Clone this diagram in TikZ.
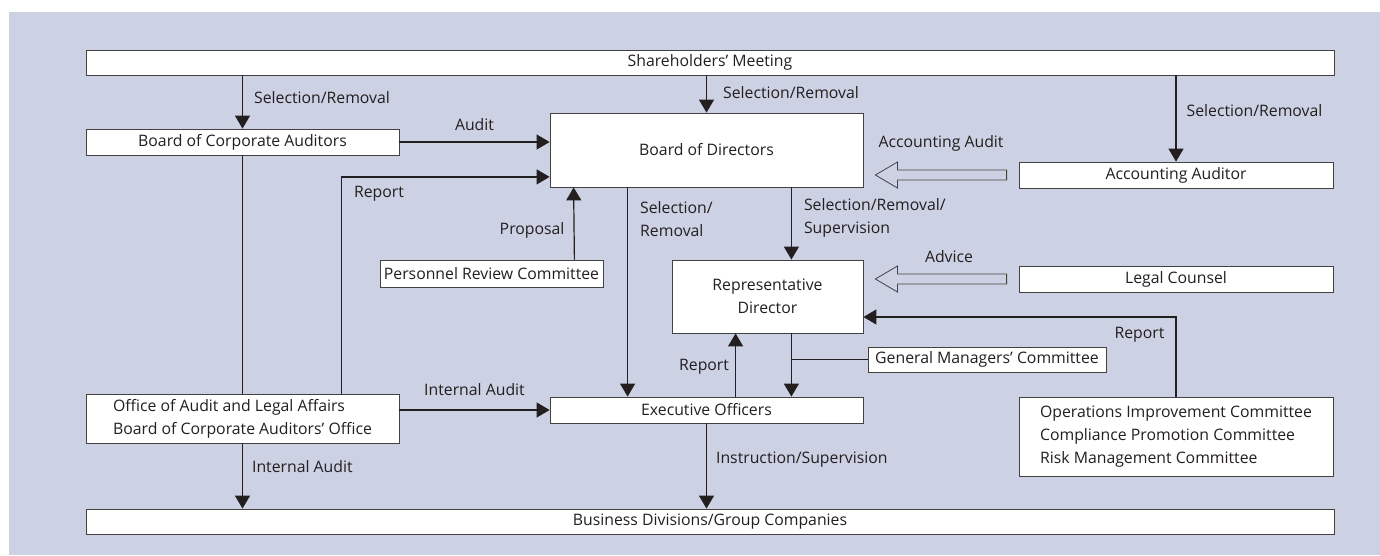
\documentclass[tikz,border=0pt]{standalone}
\usepackage{fontspec}
\setmainfont{Open Sans}
\usetikzlibrary{arrows.meta,positioning,calc}
\definecolor{panel}{RGB}{204,209,228}
\definecolor{ink}{RGB}{35,31,32}

\begin{document}
\begin{tikzpicture}[x=1pt,y=-1pt,
	box/.style={draw=ink!85, fill=white, line width=0.8pt, inner sep=0pt, text=ink, font=\fontsize{15.8}{23}\selectfont},
	lbl/.style={inner sep=0pt, text=ink, font=\fontsize{15.8}{23}\selectfont},
	arr/.style={draw=ink, line width=1.2pt, -{Triangle[length=13pt,width=15pt]}},
	link/.style={draw=ink, line width=1.2pt},
	hollow/.style={draw=ink!85, line width=0.8pt, line join=miter}]
	% Panel
	\useasboundingbox (0,0) rectangle (1380,555);
	\fill[panel] (9,12) rectangle (1380,555);
	
	% Bodies
	\node[box, minimum width=1248, minimum height=25] (sm) at (710,62.5) {Shareholders' Meeting};
	\node[box, minimum width=313, minimum height=26] (bca) at (242.5,142) {Board of Corporate Auditors};
	\node[box, minimum width=313, minimum height=74] (bod) at (706.5,150) {Board of Directors};
	\node[box, minimum width=314, minimum height=26] (acc) at (1176,175) {Accounting Auditor};
	\node[box, minimum width=223, minimum height=27] (prc) at (491.5,273.5) {Personnel Review Committee};
	\node[box, minimum width=191, minimum height=73, align=center] (rd) at (767.5,296.5) {Representative\\Director};
	\node[box, minimum width=314, minimum height=26] (lc) at (1176,279) {Legal Counsel};
	\node[box, minimum width=238, minimum height=25] (gmc) at (987,359.5) {General Managers' Committee};
	\node[box, minimum width=313, minimum height=26] (eo) at (706.5,410) {Executive Officers};
	\node[box, minimum width=313, minimum height=49, align=left] (oal) at (242.5,418.5) {Office of Audit and Legal Affairs\\Board of Corporate Auditors' Office};
	\node[box, minimum width=314, minimum height=79, align=left] (com) at (1176,436.5) {Operations Improvement Committee\\Compliance Promotion Committee\\Risk Management Committee};
	\node[box, minimum width=1248, minimum height=25] (bdg) at (710,521.5) {Business Divisions/Group Companies};
	
	% Selection by the meeting
	\draw[arr] (sm.south -| bca.north) -- (bca.north) node[lbl, right, pos=0.41, xshift=11pt] {Selection/Removal};
	\draw[arr] (sm.south -| bod.north) -- (bod.north) node[lbl, right, pos=0.45, xshift=16pt] {Selection/Removal};
	\draw[arr] (sm.south -| acc.north) -- (acc.north) node[lbl, right, pos=0.41, xshift=10pt] {Selection/Removal};
	
	% Auditors
	\draw[arr] (bca.east) -- (bca.east -| bod.west) node[lbl, above, midway, yshift=11pt] {Audit};
	\draw[link] (bca.south) -- (oal.north);
	\draw[arr] ($(oal.north east)+(-58,0)$) |- ($(bod.south west)+(0,-10.5)$) node[lbl, right, pos=0.46, xshift=12pt] {Report};
	\draw[arr] ($(prc.north east)+(-29,0)$) -- ($(bod.south west)+(24,0)$) node[lbl, left, pos=0.41, xshift=-9pt] {Proposal};
	
	% Board of directors downwards
	\draw[arr] ($(bod.south west)+(78,0)$) -- ($(eo.north west)+(78,0)$) node[lbl, right, align=left, pos=0.15, xshift=12pt] {Selection/\\Removal};
	\draw[arr] ($(bod.south east)+(-72,0)$) -- ($(rd.north east)+(-72,0)$) node[lbl, right, align=left, pos=0.42, xshift=12pt] {Selection/Removal/\\Supervision};
	
	% Hollow arrows from outside
	\coordinate (aatip) at (bod.east |- acc.west);
	\draw[hollow] ($(acc.west)+(-12,-5)$) -- ($(aatip)+(34,-5)$) -- ($(aatip)+(34,-13)$) -- ($(aatip)+(12,0)$) -- ($(aatip)+(34,13)$) -- ($(aatip)+(34,5)$) -- ($(acc.west)+(-12,5)$) -- cycle;
	\node[lbl, above, yshift=23.5pt] (aalbl) at ($(aatip)!0.5!(acc.west)$) {Accounting Audit};
	\coordinate (lctip) at (rd.east |- lc.west);
	\draw[hollow] ($(lc.west)+(-12,-5)$) -- ($(lctip)+(34,-5)$) -- ($(lctip)+(34,-13)$) -- ($(lctip)+(12,0)$) -- ($(lctip)+(34,13)$) -- ($(lctip)+(34,5)$) -- ($(lc.west)+(-12,5)$) -- cycle;
	\node[lbl, above, xshift=8pt, yshift=16pt] (lclbl) at ($(lctip)!0.5!(lc.west)$) {Advice};
	
	% Committees report
	\draw[arr] (com.north) |- ($(rd.east)+(0,20.5)$) node[lbl, anchor=north east, pos=0.5, xshift=-11pt, yshift=-10pt] {Report};
	
	% Representative director and executive officers
	\coordinate (rdout) at ($(rd.south east)+(-72,0)$);
	\draw[arr] (rdout) -- (rdout |- eo.north);
	\draw[link] (gmc.west) -- (gmc.west -| rdout);
	\coordinate (eoup) at ($(rd.south west)+(64,0)$);
	\draw[arr] (eoup |- eo.north) -- (eoup) node[lbl, left, pos=0.47, xshift=-6pt] {Report};
	
	% Internal audit and instruction
	\draw[arr] (eo.west -| oal.east) -- (eo.west) node[lbl, above, midway, yshift=14pt] {Internal Audit};
	\draw[arr] (oal.south) -- (oal.south |- bdg.north) node[lbl, right, pos=0.36, xshift=9pt] {Internal Audit};
	\draw[arr] (eo.south) -- (eo.south |- bdg.north) node[lbl, right, pos=0.43, xshift=9pt] {Instruction/Supervision};
\end{tikzpicture}
\end{document}
